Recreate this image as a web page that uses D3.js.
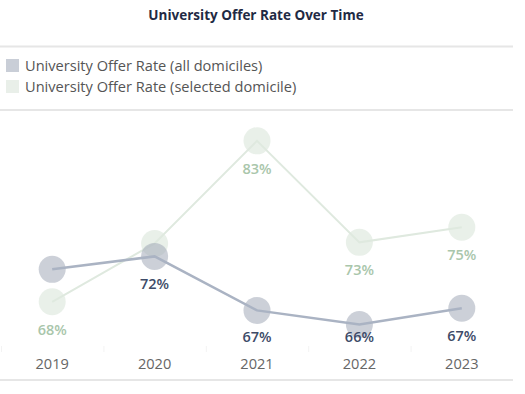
<!DOCTYPE html>
<html>
<head>
<meta charset="utf-8">
<script src="https://cdn.jsdelivr.net/npm/d3@7"></script>
<style>
  body { margin: 0; background: #fff; }
  svg { display: block; font-family: "Open Sans", sans-serif; }
</style>
</head>
<body>
<div id="chart-area"></div>
<script>

var width = 525,
    height = 394;

// Data
var years = ["2019", "2020", "2021", "2022", "2023"];
var allDomiciles = [0.708, 0.720, 0.670, 0.657, 0.672];
var selectedDomicile = [0.678, 0.732, 0.827, 0.733, 0.747];
// labels Tableau hid because of overlap
var hideAll = ["2019"];
var hideSelected = ["2020"];
var seriesNames = ["University Offer Rate (all domiciles)", "University Offer Rate (selected domicile)"];

var svg = d3.select("#chart-area").append("svg")
    .attr("width", width)
    .attr("height", height);

// Title
svg.append("text")
    .attr("x", 256)
    .attr("y", 20)
    .attr("text-anchor", "middle")
    .attr("font-size", 13.5)
    .attr("font-weight", 700)
    .attr("fill", "#1f2a44")
    .text("University Offer Rate Over Time");

// separators
svg.selectAll(".sep")
    .data([46.5, 110, 380])
    .enter().append("line")
    .attr("class", "sep")
    .attr("x1", 0)
    .attr("x2", 513)
    .attr("y1", function(d) { return d; })
    .attr("y2", function(d) { return d; })
    .attr("stroke", "#e6e6e6")
    .attr("stroke-width", 2);

// Legend
var legendColors = ["#c9ced7", "#e9efe9"];
var legend = svg.selectAll(".legend")
    .data(seriesNames)
    .enter().append("g")
    .attr("class", "legend")
    .attr("transform", function(d, i) { return "translate(6," + (59 + i * 21) + ")"; });

legend.append("rect")
    .attr("width", 13)
    .attr("height", 13)
    .attr("fill", function(d, i) { return legendColors[i]; });

legend.append("text")
    .attr("x", 19)
    .attr("y", 12)
    .attr("font-size", 14.6)
    .attr("fill", "#555")
    .text(function(d) { return d; });

// Scales
var x = d3.scaleBand()
    .domain(years)
    .range([1, 513]);

var y = d3.scaleLinear()
    .domain([0.63, 0.85])
    .range([353.6, 116]);

var fmt = d3.format(".0%");

// year labels
var xAxis = d3.axisBottom(x).tickSize(0).tickPadding(0);
var axisG = svg.append("g")
    .attr("transform", "translate(0,368.5)")
    .call(xAxis);
axisG.select(".domain").remove();
axisG.selectAll("text")
    .attr("font-family", "'Open Sans', sans-serif")
    .attr("font-size", 14.6)
    .attr("fill", "#666")
    .attr("dy", 0);

// faint band separators
svg.selectAll(".band-tick")
    .data(years)
    .enter().append("line")
    .attr("class", "band-tick")
    .attr("x1", function(d) { return x(d) + 0.5; })
    .attr("x2", function(d) { return x(d) + 0.5; })
    .attr("y1", 346)
    .attr("y2", 352)
    .attr("stroke", "#f3f3f3");

var line = d3.line()
    .x(function(d) { return x(d.year) + x.bandwidth() / 2; })
    .y(function(d) { return y(d.value); });

function drawSeries(values, hidden, circleFill, circleOpacity, lineColor, lineWidth, labelColor) {
    var data = years.map(function(yr, i) { return {year: yr, value: values[i]}; });
    var g = svg.append("g");

    g.selectAll("circle")
        .data(data)
        .enter().append("circle")
        .attr("cx", function(d) { return x(d.year) + x.bandwidth() / 2; })
        .attr("cy", function(d) { return y(d.value); })
        .attr("r", 13.5)
        .attr("fill", circleFill)
        .attr("fill-opacity", circleOpacity);

    g.append("path")
        .datum(data)
        .attr("d", line)
        .attr("fill", "none")
        .attr("stroke", lineColor)
        .attr("stroke-width", lineWidth);

    g.selectAll(".lbl")
        .data(data.filter(function(d) { return hidden.indexOf(d.year) < 0; }))
        .enter().append("text")
        .attr("class", "lbl")
        .attr("x", function(d) { return x(d.year) + x.bandwidth() / 2; })
        .attr("y", function(d) { return Math.min(y(d.value) + 33, 342); })
        .attr("text-anchor", "middle")
        .attr("font-size", 14.5)
        .attr("font-weight", 600)
        .attr("fill", labelColor)
        .text(function(d) { return fmt(d.value); });
}

drawSeries(selectedDomicile, hideSelected, "#d3e2d3", 0.5, "#dfe9df", 2, "#a9c6ab");
drawSeries(allDomiciles, hideAll, "#a2a9b8", 0.55, "#aab3c3", 2.5, "#3d4b68");

</script>
</body>
</html>
